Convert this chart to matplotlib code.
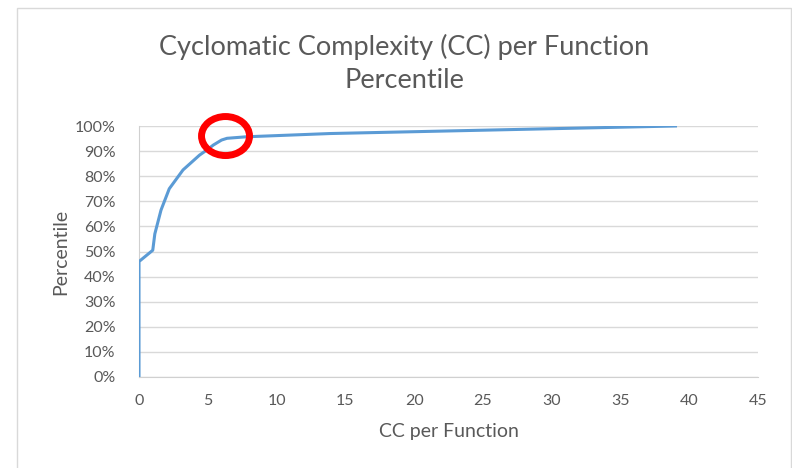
import matplotlib as mpl
import matplotlib.pyplot as plt
from matplotlib.patches import Ellipse, Rectangle
from matplotlib.ticker import PercentFormatter

mpl.use('Agg')

# CC per function vs. cumulative percentile
cc = [0, 0, 1.0, 1.15, 1.6, 2.2, 3.2, 4.4, 5.0, 5.4, 6.0, 6.4, 7.8, 13.9, 39]
pct = [0, 0.46, 0.505, 0.57, 0.665, 0.75, 0.825, 0.884, 0.907, 0.924, 0.944, 0.951, 0.957, 0.97, 1.0]
xticks = list(range(0, 50, 5))
yticks = [i / 10 for i in range(11)]

W, H = 792, 468
txt = '#595959'
grid = '#D9D9D9'
plt.rcParams['font.family'] = ['Lato', 'DejaVu Sans']

fig = plt.figure(figsize=(W / 100, H / 100), dpi=100)
ax = fig.add_axes([139 / W, 1 - 377 / H, (758 - 139) / W, (377 - 126) / H])

ax.plot(cc, pct, color='#5B9BD5', lw=2.2, solid_joinstyle='round', zorder=3)
ax.set_xlim(0, 45)
ax.set_ylim(0, 1)
ax.set_xticks(xticks)
ax.set_yticks(yticks)
ax.yaxis.set_major_formatter(PercentFormatter(1.0, decimals=0))
ax.grid(axis='y', color=grid, lw=1)
ax.set_axisbelow(True)
for s in ['top', 'right']:
    ax.spines[s].set_visible(False)
for s in ['left', 'bottom']:
    ax.spines[s].set_color('#D0D0D0')
ax.tick_params(length=0, labelsize=11.5, labelcolor=txt)
ax.tick_params(axis='y', pad=17)
ax.tick_params(axis='x', pad=12)
ax.set_xlabel('CC per Function', fontsize=14, color=txt, labelpad=11)
ax.set_ylabel('Percentile', fontsize=14, color=txt, labelpad=4)

# red circle highlight around the knee
ax.add_patch(Ellipse((6.29, 0.96), 48 / 13.76, 39 / 251, fill=False,
                     ec='#FF0000', lw=5, clip_on=False, zorder=5))

fig.text(404 / W, 1 - 47 / H, 'Cyclomatic Complexity (CC) per Function',
         ha='center', va='center', fontsize=19.5, color=txt)
fig.text(404 / W, 1 - 80 / H, 'Percentile',
         ha='center', va='center', fontsize=19.5, color=txt)

# chart border
fig.patches.append(Rectangle((17, -5), 791 - 17, H - 8 + 5, transform=None,
                             fill=False, ec=grid, lw=1))

plt.savefig('out.png', dpi=100)
